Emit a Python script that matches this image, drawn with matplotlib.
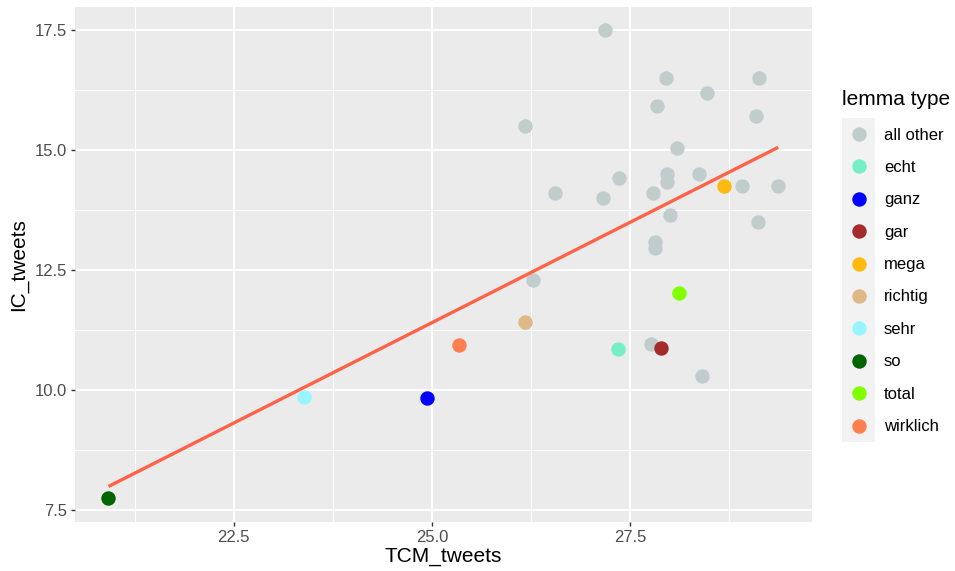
import numpy as np
import matplotlib
matplotlib.use("Agg")
import matplotlib.pyplot as plt
from matplotlib.lines import Line2D
from matplotlib.patches import Rectangle

plt.rcParams['font.family'] = ['Liberation Sans', 'DejaVu Sans']

# data
other_x = [27.18, 27.96, 29.13, 28.47, 27.84, 29.09, 26.18, 28.09, 27.97, 27.97,
           28.37, 27.36, 26.56, 27.16, 27.79, 28.91, 29.37, 28.01, 29.12, 27.82,
           27.82, 26.27, 27.77, 28.41]
other_y = [17.50, 16.50, 16.50, 16.18, 15.92, 15.70, 15.50, 15.04, 14.51, 14.34,
           14.51, 14.41, 14.11, 13.99, 14.11, 14.25, 14.25, 13.64, 13.51, 13.09,
           12.95, 12.29, 10.96, 10.29]

lemmas = ["echt", "ganz", "gar", "mega", "richtig", "sehr", "so", "total", "wirklich"]
lemma_x = [27.35, 24.94, 27.89, 28.68, 26.18, 23.39, 20.92, 28.12, 25.34]
lemma_y = [10.85, 9.84, 10.88, 14.25, 11.42, 9.86, 7.74, 12.02, 10.93]

legend_labels = ["all other"] + lemmas
colors = {
    "all other": "#C1CDCD",
    "echt": "#76EEC6",
    "ganz": "#0000FF",
    "gar": "#A52A2A",
    "mega": "#FFB90F",
    "richtig": "#DEB887",
    "sehr": "#98F5FF",
    "so": "#006400",
    "total": "#7FFF00",
    "wirklich": "#FF7F50",
}

W, H = 955, 571
fig = plt.figure(figsize=(W/100, H/100), dpi=100)
ax = fig.add_axes([75/W, 1-521.7/H, (811.7-75)/W, (521.7-6.7)/H])
ax.set_facecolor("#EBEBEB")
for s in ax.spines.values():
    s.set_visible(False)

S = 108
ax.scatter(other_x, other_y, s=S, color=colors["all other"], linewidths=0, zorder=3)
for lab, x, y in zip(lemmas, lemma_x, lemma_y):
    ax.scatter([x], [y], s=S, color=colors[lab], linewidths=0, zorder=3)

# linear fit over all points
all_x = np.array(other_x + lemma_x)
all_y = np.array(other_y + lemma_y)
b, a = np.polyfit(all_x, all_y, 1)
xs = np.array([all_x.min(), all_x.max()])
ax.plot(xs, a + b*xs, color="#FF6347", lw=2.4, zorder=4, solid_capstyle="butt")

# limits with 5% expansion
xr = all_x.max() - all_x.min()
yr = all_y.max() - all_y.min()
ax.set_xlim(all_x.min() - 0.05*xr, all_x.max() + 0.05*xr)
ax.set_ylim(all_y.min() - 0.05*yr, all_y.max() + 0.05*yr)

ax.set_xticks([22.5, 25.0, 27.5])
ax.set_xticklabels(["22.5", "25.0", "27.5"])
ax.set_yticks([7.5, 10.0, 12.5, 15.0, 17.5])
ax.set_yticklabels(["7.5", "10.0", "12.5", "15.0", "17.5"])
ax.set_xticks([21.25, 23.75, 26.25, 28.75], minor=True)
ax.set_yticks([8.75, 11.25, 13.75, 16.25], minor=True)
ax.grid(which="major", color="white", lw=1.4)
ax.grid(which="minor", color="white", lw=0.7)
ax.set_axisbelow(True)
ax.tick_params(which="major", length=3.2, width=1.0, color="#333333",
               labelsize=12, labelcolor="#4D4D4D", pad=2.5)
ax.tick_params(which="minor", length=0)

ax.set_xlabel("TCM_tweets", fontsize=15, labelpad=2)
ax.set_ylabel("IC_tweets", fontsize=15, labelpad=5)

# legend (drawn as a guide in figure pixel coordinates)
def fy(py):
    return 1 - py / H

fig.patches.append(Rectangle((842/W, fy(441.7)), 33/W, (441.7-117.7)/H,
                             transform=fig.transFigure, facecolor="#F2F2F2",
                             edgecolor="none", zorder=0))
fig.text(842/W, fy(105), "lemma type", fontsize=15, ha="left", va="baseline")
pitch = 32.4
for i, lab in enumerate(legend_labels):
    cy = 117.7 + pitch/2 + pitch*i
    fig.add_artist(Line2D([858.5/W], [fy(cy)], transform=fig.transFigure,
                          marker="o", markersize=10.4, color=colors[lab],
                          markeredgewidth=0, linestyle="none"))
    fig.text(884/W, fy(cy + 5.6), lab, fontsize=12, ha="left", va="baseline")

fig.savefig("out.png", dpi=100)
